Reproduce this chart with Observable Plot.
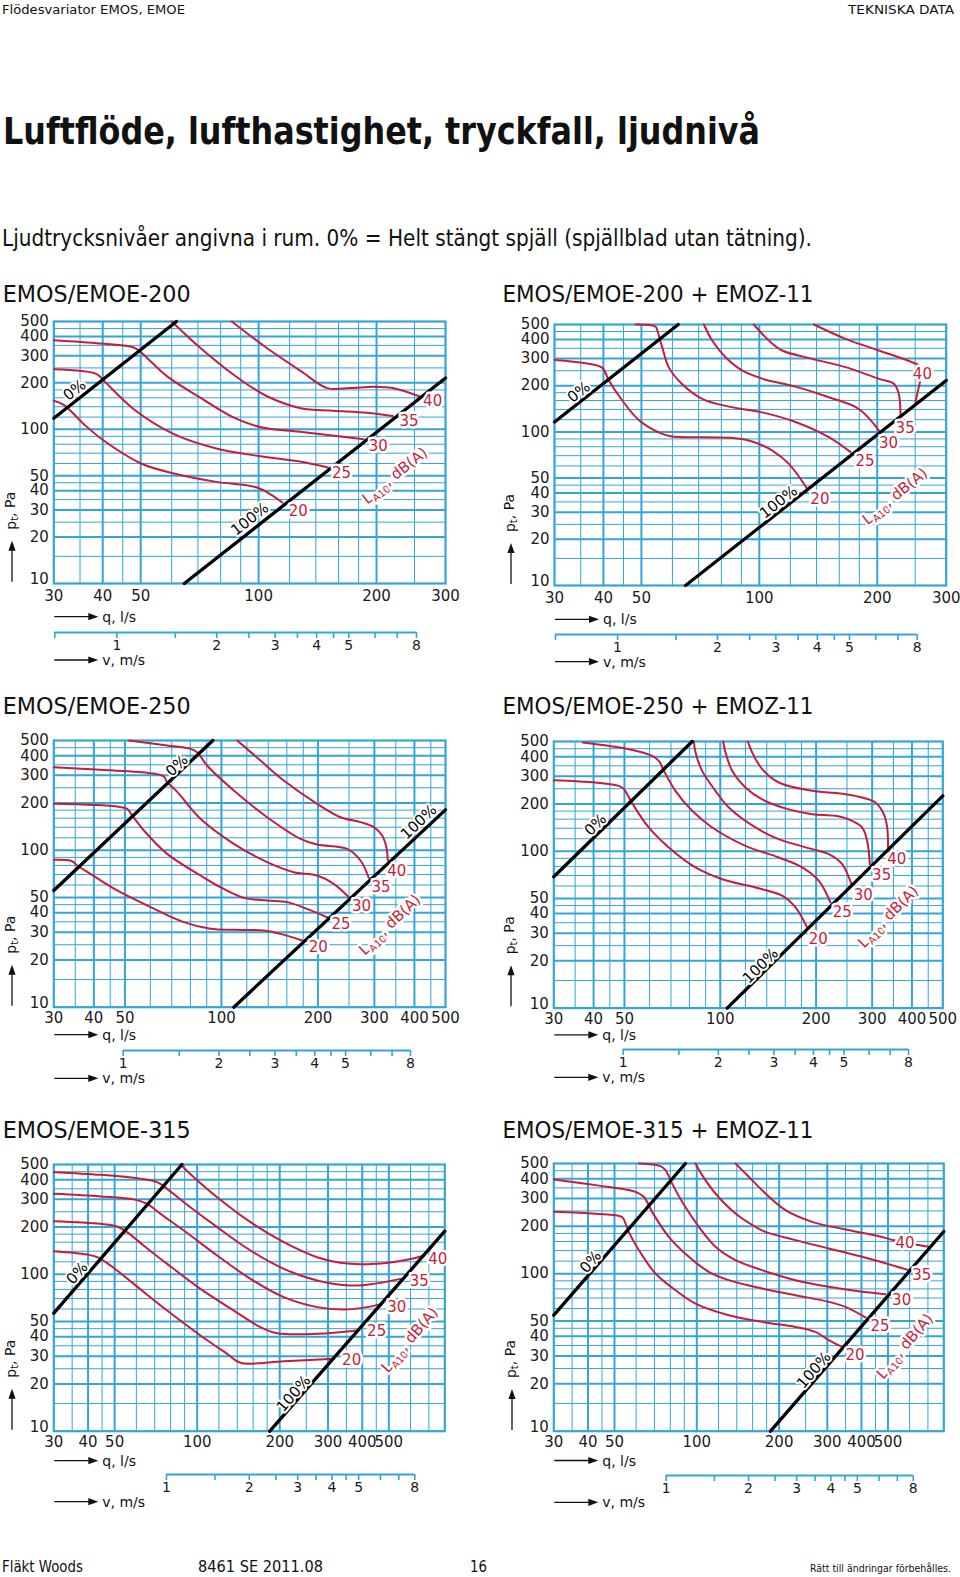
<!DOCTYPE html>
<html><head><meta charset="utf-8">
<script src="https://cdn.jsdelivr.net/npm/d3@7"></script>
<script src="https://cdn.jsdelivr.net/npm/@observablehq/plot@0.6"></script>
<style>
body{margin:0;background:#fff;}
#page{position:relative;width:960px;height:1577px;overflow:hidden;background:#fff;}
.abs{position:absolute;}
</style></head><body><div id="page"></div>
<script>
// ---------- shared axis / grid values ----------
const levels = [20, 25, 30, 35, 40];
const yTickLabels = [10, 20, 30, 40, 50, 100, 200, 300, 400, 500];
const yGridMajor = [20, 30, 40, 50, 100, 200, 300, 400];
const yGridMinor = [15, 25, 35, 45, 60, 70, 80, 90, 120, 140, 160, 180, 250, 350, 450];
const xGridMajor = [40, 50, 100, 200, 300, 400, 500];
const xGridMinor = [35, 45, 60, 70, 80, 90, 120, 140, 160, 180, 250, 350, 450, 600, 700];
const xLabels300 = [30, 40, 50, 100, 200, 300];
const xLabels500 = [30, 40, 50, 100, 200, 300, 400, 500];
const xLabels800 = [30, 40, 50, 100, 200, 300, 400, 500, 800];
const vTicks = [1, 1.5, 2, 2.5, 3, 3.5, 4, 4.5, 5, 6, 7, 8];
const vLabels = [1, 2, 3, 4, 5, 8];
const noteTexts = ["0%", "100%", "LA10, dB(A)"];

// ---------- EMOS/EMOE-200 ----------
const emos200Closed = [[30, 118], [61.7, 500]];
const emos200Open = [[64.6, 10], [300, 215]];
const emos200Curves = [
  [[30,153],[31.8,144],[35.8,108],[40.3,84.2],[50.1,60],[60.8,51.7],[78,45.6],[99.1,41.9],[115,33.5]],
  [[30,245],[38.6,228],[40.3,206],[48,135],[60.8,93],[78,75.1],[99.1,67.3],[127.5,61.8],[150.3,56.5]],
  [[30,378],[39.4,360],[48,339],[50.1,315],[58.2,222],[70.8,161],[86.5,119],[101.5,103],[127.5,96.3],[185.5,86.3]],
  [[60,500],[70.8,339],[86.5,225],[104.5,165],[128,137],[155,132],[189,128],[220,122]],
  [[85.4,500],[104.5,339],[128,239],[149.6,185],[171,185],[196.5,189],[220,185],[259.6,162]]
];
const emos200LevelLabels = [[119.4,29.3],[154,51.9],[191,77.4],[229,113.5],[263,153]];
const emos200Notes = [[33.9,179.4],[95,26.1],[223.6,49.4]];

// ---------- EMOS/EMOE-200 + EMOZ-11 ----------
const emoz200Closed = [[30, 116], [62.1, 500]];
const emoz200Open = [[64.8, 10], [300, 216]];
const emoz200Curves = [
  [[30,294],[36,280],[39.7,262],[41.3,216],[44.7,160],[49.3,119],[56.5,97],[59.9,93.4],[83.6,91.5],[94.1,87.9],[107.9,75.6],[119,61.9],[132.5,42.6]],
  [[48.3,500],[54.3,485],[54.9,457],[56.5,356],[58.7,264],[63.5,205],[71.5,164],[83.6,146],[101.7,134],[123.7,116],[150.5,92.4],[171,73.8]],
  [[72.2,500],[75.8,393],[82,306],[90.4,251],[101.7,222],[123.7,197],[150.5,168],[179.5,141],[202,102]],
  [[96.8,500],[105.8,393],[114.4,338.6],[136.5,298.7],[166,264],[202,221.4],[220.6,205.5],[227,176.8],[229.4,127.8]],
  [[137.8,500],[166,403.5],[202,338.6],[245.7,284],[255.5,270],[258,227],[253,176.8],[250.5,156]]
];
const emoz200LevelLabels = [[135,36.7],[176,64.1],[202,84.8],[222.8,105.7],[246.6,238.6]];
const emoz200Notes = [[34.6,181.3],[112,34.9],[222.8,37.6]];

// ---------- EMOS/EMOE-250 ----------
const emos250Closed = [[30, 55.4], [94, 500]];
const emos250Open = [[109.3, 10], [500, 180.8]];
const emos250Curves = [
  [[30,86.8],[34.2,85.1],[35.5,79.9],[39,70.7],[47.3,55.4],[60.1,43.4],[76.3,34.8],[92.4,31.6],[109.3,31.1],[135.6,30.8],[152.8,29.3],[178.6,26.6]],
  [[30,197.4],[47.3,189.7],[50.8,183.4],[52.7,166.3],[57.3,133.5],[67.7,94.8],[86,69],[97,59.6],[117.4,49.7],[138.9,47.8],[160.4,46.7],[185,42.3],[213.7,37.4]],
  [[30,338],[41.9,325],[60.1,309.6],[66.1,294.9],[67.7,271.3],[72.7,236],[86,158.5],[109.3,109.8],[138.9,83.9],[168.2,72.4],[198.9,69],[224,61.1],[249.7,50.2]],
  [[51.4,500],[67.7,464.5],[80.1,442.3],[84,421.3],[90.2,346.4],[109.3,240.1],[138.9,162.3],[176.5,118.1],[198.9,108.7],[246.7,102],[271.5,86],[288.2,66.7]],
  [[112,500],[132.4,372.7],[156.5,278],[198.9,197.4],[235.2,162.3],[271.5,150.9],[298.8,140.2],[317.2,124],[327,104.5],[330.3,86]]
];
const emos250LevelLabels = [[187.3,24.1],[220.4,34],[255.6,44],[293.7,58.1],[328.8,73.2]];
const emos250Notes = [[72.7,346.4],[412.8,150.9],[336.7,33.1]];

// ---------- EMOS/EMOE-250 + EMOZ-11 ----------
const emoz250Closed = [[30, 68.7], [81.6, 500]];
const emoz250Open = [[105.1, 10], [500, 225.3]];
const emoz250Curves = [
  [[30,283.5],[40.6,274],[48,260.9],[49.8,248.5],[52.9,201.8],[59.6,141.6],[68.9,105.6],[83.6,78.8],[101.4,66.3],[129,58.7],[156.4,52],[172.3,43.8],[187.4,32.7]],
  [[37,492.6],[51.6,446.7],[61.1,405.3],[64.1,376.5],[66.5,325],[72.3,242.5],[81.6,180.8],[94.3,141.6],[120,108.2],[152.7,91.2],[180.8,78.8],[204,64.7],[221.9,47.1]],
  [[82.6,500],[83.6,427],[87.7,325],[96.6,242.5],[106.4,189.8],[129,141.6],[152.7,119.3],[194.4,103],[219.2,95.7],[241.5,82.7],[253.4,68],[258.3,61.7]],
  [[102.1,500],[103.8,427],[109,325],[120,254.6],[135.4,213.8],[164.1,184.6],[194.4,172.1],[230,168],[259.5,156.2],[279,141.6],[289.3,116.4],[294.9,82.7]],
  [[122.1,500],[125.9,427],[135.4,333.2],[152.7,274],[194.4,242.5],[247.4,230.9],[279,219.9],[307.2,204.3],[326.4,172.1],[334.4,141.6],[336.6,103]]
];
const emoz250LevelLabels = [[189.7,27.5],[225.7,40.7],[262.7,52.7],[299.9,70.4],[334.5,89]];
const emoz250Notes = [[40.6,147.2],[133.8,18.6],[338.4,37.8]];

// ---------- EMOS/EMOE-315 ----------
const emos315Closed = [[30, 56.5], [88, 500]];
const emos315Open = [[184, 10], [800, 188]];
const emos315Curves = [
  [[30,140.2],[39.7,133.5],[43.2,128.4],[48.3,113.6],[58.7,86.8],[77.7,58.7],[102.8,40.7],[128.6,31.1],[143.8,27.3],[207,27.9],[315,28.9]],
  [[30,217.7],[44.4,209.4],[51.1,201.4],[55.5,185.3],[63.9,152],[77.7,116.4],[102.8,80.7],[136,58.7],[170.2,46],[195.7,42.1],[273.9,41.7],[383.4,43.8]],
  [[30,325],[44.4,313.2],[58.7,299.8],[65.7,280.8],[73.5,242.5],[89.4,189.8],[118.3,131.6],[156.5,93.4],[207,71.4],[273.9,61.7],[342.7,59.6],[416.7,61.7],[472.7,64.7]],
  [[30,446.7],[44.4,429.5],[62.1,405.3],[71.4,385.8],[77.7,349.9],[89.4,287.6],[118.3,199.4],[156.5,141.6],[207,108.2],[273.9,91.2],[362.4,84.7],[440.7,86.8],[551.4,93.4]],
  [[86.9,500],[97.2,415.3],[118.3,309.6],[156.5,214.6],[207,160],[273.9,128.4],[362.4,116.4],[479.5,117.6],[583.2,123.5],[670.8,131.6]]
];
const emos315LevelLabels = [[337.7,28.5],[416.7,43.4],[493,61.7],[596.4,89.9],[695.7,124]];
const emos315Notes = [[36.5,101.5],[225,17.3],[599.7,37.8]];

// ---------- EMOS/EMOE-315 + EMOZ-11 ----------
const emoz315Closed = [[30, 54.5], [90.9, 500]];
const emoz315Open = [[186, 10], [800, 185]];
const emoz315Curves = [
  [[30,246.8],[42.6,239.7],[53.3,228.2],[54.8,209.1],[56.4,184.2],[61.4,140.9],[70.6,100.2],[83.6,78.5],[98.9,64.6],[130.9,54.5],[173.3,49.4],[229.5,45.9],[271.5,42.7],[303.8,37.8],[339.9,34.3]],
  [[30,396],[42.6,364.5],[59.7,330.4],[64,307.3],[68.6,246.8],[79,171.2],[93.5,127.9],[110.6,102.7],[130.9,90.9],[173.3,80.5],[229.5,73],[303.8,66.2],[349.6,61.5],[413.6,52.7]],
  [[61.4,500],[73.6,481],[76.8,454],[81.2,373.5],[88.4,285.6],[101.7,198.2],[117,148],[138.5,121.8],[173.3,105.2],[229.5,90.9],[303.8,82.5],[402.3,76.7],[489.6,74.1]],
  [[98.9,500],[104.6,421.7],[117,322.6],[138.5,240.9],[163.9,198.2],[178.2,184.2],[229.5,163.1],[303.8,144.4],[402.3,127.9],[532.5,111.5],[595.8,105.2]],
  [[138.5,500],[154.9,411.6],[178.2,322.6],[210.9,252.8],[264,213.2],[349.6,190.6],[462.9,172.9],[525,163.1],[705,148]]
];
const emoz315LevelLabels = [[349.6,30.4],[431.5,46.6],[517.8,67.9],[612.9,97.8],[532.5,156.9]];
const emoz315Notes = [[40.9,118.8],[267.8,24.4],[579.3,34.3]];

// ---------- styling / layout ----------
const GRID = "#33a5d8";
const RED = "#c41e3a";
const FONT = "'DejaVu Sans', sans-serif";
const FONTC = "'DejaVu Sans Condensed', 'DejaVu Sans', sans-serif";

const panels = [
  {title:"EMOS/EMOE-200", titleX:2.7, titleLen:188, titleBase:301.7, left:0, L:53.3, W:391.7, T:320.7, B:582.7, qMax:300, xLabels:xLabels300, xPad:7,
   curves:emos200Curves, closed:emos200Closed, open:emos200Open, levelLabels:emos200LevelLabels, notes:emos200Notes,
   qDy:34, vLineDy:49, vLabDy:77.3, vStart:54.3, vEnd:416, vDomain:[0.65, 8], yLabX:11},
  {title:"EMOS/EMOE-200 + EMOZ-11", titleX:502.5, titleLen:311, titleBase:301.7, left:495, L:554, W:391.7, T:324, B:585, qMax:300, xLabels:xLabels300, xPad:7,
   curves:emoz200Curves, closed:emoz200Closed, open:emoz200Open, levelLabels:emoz200LevelLabels, notes:emoz200Notes,
   qDy:34.3, vLineDy:49, vLabDy:76.7, vStart:555, vEnd:916.7, vDomain:[0.65, 8], yLabX:510},
  {title:"EMOS/EMOE-250", titleX:2.7, titleLen:188, titleBase:714, left:0, L:53.3, W:391.7, T:740, B:1006.7, qMax:500, xLabels:xLabels500, xPad:5,
   curves:emos250Curves, closed:emos250Closed, open:emos250Open, levelLabels:emos250LevelLabels, notes:emos250Notes,
   qDy:28, vLineDy:43.3, vLabDy:71.6, vStart:122.7, vEnd:410, vDomain:[1, 8], yLabX:11},
  {title:"EMOS/EMOE-250 + EMOZ-11", titleX:502.5, titleLen:311, titleBase:714, left:495, L:553.3, W:389, T:740.7, B:1007.3, qMax:500, xLabels:xLabels500, xPad:5,
   curves:emoz250Curves, closed:emoz250Closed, open:emoz250Open, levelLabels:emoz250LevelLabels, notes:emoz250Notes,
   qDy:27.5, vLineDy:42, vLabDy:70, vStart:622.7, vEnd:908, vDomain:[1, 8], yLabX:510},
  {title:"EMOS/EMOE-315", titleX:2.7, titleLen:188, titleBase:1137.7, left:0, L:53.3, W:391, T:1164, B:1430.7, qMax:800, xLabels:xLabels800, xPad:5.5,
   curves:emos315Curves, closed:emos315Closed, open:emos315Open, levelLabels:emos315LevelLabels, notes:emos315Notes,
   qDy:30, vLineDy:43.6, vLabDy:71, vStart:166, vEnd:414.3, vDomain:[1, 8], yLabX:11},
  {title:"EMOS/EMOE-315 + EMOZ-11", titleX:502.5, titleLen:311, titleBase:1137.7, left:495, L:553.3, W:390, T:1163.3, B:1431, qMax:800, xLabels:xLabels800, xPad:5.5,
   curves:emoz315Curves, closed:emoz315Closed, open:emoz315Open, levelLabels:emoz315LevelLabels, notes:emoz315Notes,
   qDy:29.5, vLineDy:44, vLabDy:71.3, vStart:665.7, vEnd:912.7, vDomain:[1, 8], yLabX:511}
];

const page = d3.select("#page");

function lineAngle(P) {
  const [[q1, p1], [q2, p2]] = P.open;
  const pxX = P.W / Math.log10(P.qMax / 30);
  const pxY = (P.B - P.T) / Math.log10(500 / 10);
  return -Math.atan2(Math.log10(p2 / p1) * pxY, Math.log10(q2 / q1) * pxX) * 180 / Math.PI;
}

function place(node, left, top, width) {
  page.append("div").attr("class", "abs")
    .style("left", left + "px").style("top", top + "px").style("width", width + "px")
    .node().appendChild(node);
}

function mainPlot(P) {
  const mt = 15, mb = 28;
  const inDom = d => d > 30 && d < P.qMax;
  const curveRows = P.curves.flatMap((pts, i) => pts.map(([q, p]) => ({q, p, level: levels[i]})));
  const labelRows = P.levelLabels.map(([q, p], i) => ({q, p, text: String(levels[i])}));
  const noteRows = P.notes.map(([q, p], i) => ({q, p, text: noteTexts[i]}));
  const ang = lineAngle(P);
  const svg = Plot.plot({
    width: 465, height: mt + (P.B - P.T) + mb,
    marginLeft: P.L - P.left, marginRight: 465 - (P.L - P.left) - P.W,
    marginTop: mt, marginBottom: mb,
    x: {type: "log", domain: [30, P.qMax]},
    y: {type: "log", domain: [10, 500]},
    style: {fontFamily: FONT, fontSize: "15px", background: "transparent", overflow: "visible", color: "#1a1a1a"},
    marks: [
      Plot.ruleX(xGridMinor.filter(inDom), {x: d => d, stroke: GRID, strokeWidth: 1}),
      Plot.ruleY(yGridMinor, {y: d => d, stroke: GRID, strokeWidth: 1}),
      Plot.ruleX(xGridMajor.filter(inDom), {x: d => d, stroke: GRID, strokeWidth: 2}),
      Plot.ruleY(yGridMajor, {y: d => d, stroke: GRID, strokeWidth: 2}),
      Plot.frame({stroke: GRID, strokeWidth: 2.2}),
      Plot.line(curveRows, {x: "q", y: "p", z: "level", stroke: RED, strokeWidth: 2, curve: "catmull-rom"}),
      Plot.line(P.closed, {x: d => d[0], y: d => d[1], stroke: "#000", strokeWidth: 3.3}),
      Plot.line(P.open, {x: d => d[0], y: d => d[1], stroke: "#000", strokeWidth: 3.3}),
      Plot.text(labelRows, {x: "q", y: "p", text: "text", fill: RED, stroke: "#fff", strokeWidth: 5, textAnchor: "start", fontSize: 15}),
      Plot.text(noteRows.slice(0, 2), {x: "q", y: "p", text: "text", fill: "#000", stroke: "#fff", strokeWidth: 4, rotate: ang, fontSize: 15}),
      Plot.text(noteRows.slice(2), {x: "q", y: "p", text: "text", fill: RED, stroke: "#fff", strokeWidth: 5, rotate: ang, fontSize: 15}),
      Plot.axisX({ticks: P.xLabels, tickSize: 0, tickPadding: P.xPad, tickFormat: d => String(d), fontSize: 15, label: null}),
      Plot.axisY({ticks: yTickLabels.slice(1), tickSize: 0, tickPadding: 5, tickFormat: d => String(d), fontSize: 15, label: null}),
      Plot.axisY({ticks: yTickLabels.slice(0, 1), tickSize: 0, tickPadding: 5, tickFormat: d => String(d), fontSize: 15, label: null, dy: -4})
    ]
  });
  d3.select(svg).selectAll("text").each(function() {
    if (this.textContent === "LA10, dB(A)") {
      const t = d3.select(this);
      t.text(null);
      t.append("tspan").text("L");
      t.append("tspan").attr("dy", "0.32em").attr("font-size", 10).text("A10");
      t.append("tspan").attr("dy", "-0.32em").text(", dB(A)");
    }
  });
  place(svg, P.left, P.T - mt, 465);
}

function vPlot(P) {
  const mt = 2, h = 6, mb = 20;
  const ticks = Array.from(new Set([P.vDomain[0], ...vTicks]));
  const svg = Plot.plot({
    width: 465, height: mt + h + mb,
    marginTop: mt, marginBottom: mb,
    marginLeft: P.vStart - P.left, marginRight: 465 - (P.vEnd - P.left),
    x: {type: "log", domain: P.vDomain},
    y: {domain: [0, 1], axis: null},
    style: {fontFamily: FONT, fontSize: "14px", background: "transparent", overflow: "visible", color: "#1a1a1a"},
    marks: [
      Plot.tickX(ticks, {x: d => d, stroke: GRID, strokeWidth: 1.6}),
      Plot.ruleY([1], {y: d => d, x1: P.vDomain[0], x2: P.vDomain[1], stroke: GRID, strokeWidth: 2.2}),
      Plot.axisX({ticks: vLabels, tickSize: 0, tickPadding: 2, tickFormat: d => String(d), fontSize: 14, label: null})
    ]
  });
  place(svg, P.left, P.B + P.vLineDy - mt, 465);
}

panels.forEach(P => { mainPlot(P); vPlot(P); });

// ---------- overlay: page texts, axis names and arrows ----------
const ov = page.append("svg").attr("class", "abs")
  .style("left", "0px").style("top", "0px").style("pointer-events", "none")
  .attr("width", 960).attr("height", 1577);

function txt(x, y, s, o = {}) {
  const t = ov.append("text").attr("x", x).attr("y", y)
    .attr("font-family", o.family || FONTC)
    .attr("font-size", o.size || 15)
    .attr("font-weight", o.weight || "normal")
    .attr("fill", o.fill || "#111")
    .attr("text-anchor", o.anchor || "start")
    .text(s);
  if (o.len) t.attr("textLength", o.len).attr("lengthAdjust", "spacingAndGlyphs");
  if (o.mid) t.attr("dominant-baseline", "central");
  return t;
}
function arrowRight(x, y) {
  ov.append("line").attr("x1", x).attr("x2", x + 36).attr("y1", y).attr("y2", y).attr("stroke", "#111").attr("stroke-width", 1.3);
  ov.append("polygon").attr("points", `${x + 34},${y - 3.6} ${x + 44},${y} ${x + 34},${y + 3.6}`).attr("fill", "#111");
}
function arrowUp(x, y) {
  ov.append("line").attr("x1", x).attr("x2", x).attr("y1", y).attr("y2", y - 33).attr("stroke", "#111").attr("stroke-width", 1.3);
  ov.append("polygon").attr("points", `${x - 3.6},${y - 31} ${x},${y - 41} ${x + 3.6},${y - 31}`).attr("fill", "#111");
}

txt(2, 13.5, "Flödesvariator EMOS, EMOE", {size: 13, len: 183});
txt(954, 13.5, "TEKNISKA DATA", {size: 13, len: 106, anchor: "end"});
txt(3, 144.3, "Luftflöde, lufthastighet, tryckfall, ljudnivå", {size: 38, weight: "bold", len: 757});
txt(2, 246, "Ljudtrycksnivåer angivna i rum. 0% = Helt stängt spjäll (spjällblad utan tätning).", {size: 22.5, len: 810});

panels.forEach(P => {
  txt(P.titleX, P.titleBase, P.title, {size: 22.5, len: P.titleLen});
  // q axis name
  arrowRight(P.L + 1, P.B + P.qDy);
  txt(P.L + 49, P.B + P.qDy, "q, l/s", {size: 14, family: FONT, mid: true});
  // v axis name
  arrowRight(P.L + 1, P.B + P.vLabDy);
  txt(P.L + 49, P.B + P.vLabDy, "v, m/s", {size: 14, family: FONT, mid: true});
  // y axis name
  arrowUp(P.yLabX + 1, P.B - 1);
  const yl = ov.append("text")
    .attr("transform", `translate(${P.yLabX},${P.B - 72}) rotate(-90)`)
    .attr("font-family", FONT).attr("font-size", 14).attr("fill", "#111")
    .attr("text-anchor", "middle").attr("dominant-baseline", "central");
  yl.append("tspan").text("p");
  yl.append("tspan").attr("dy", "0.3em").attr("font-size", 10).text("t");
  yl.append("tspan").attr("dy", "-0.3em").text(", Pa");
});

txt(2, 1571.5, "Fläkt Woods", {size: 15, len: 81});
txt(198, 1571.5, "8461 SE 2011.08", {size: 15, len: 125});
txt(470, 1571.5, "16", {size: 15, len: 17});
txt(951, 1572, "Rätt till ändringar förbehålles.", {size: 10.5, len: 141, anchor: "end"});
</script></body></html>
